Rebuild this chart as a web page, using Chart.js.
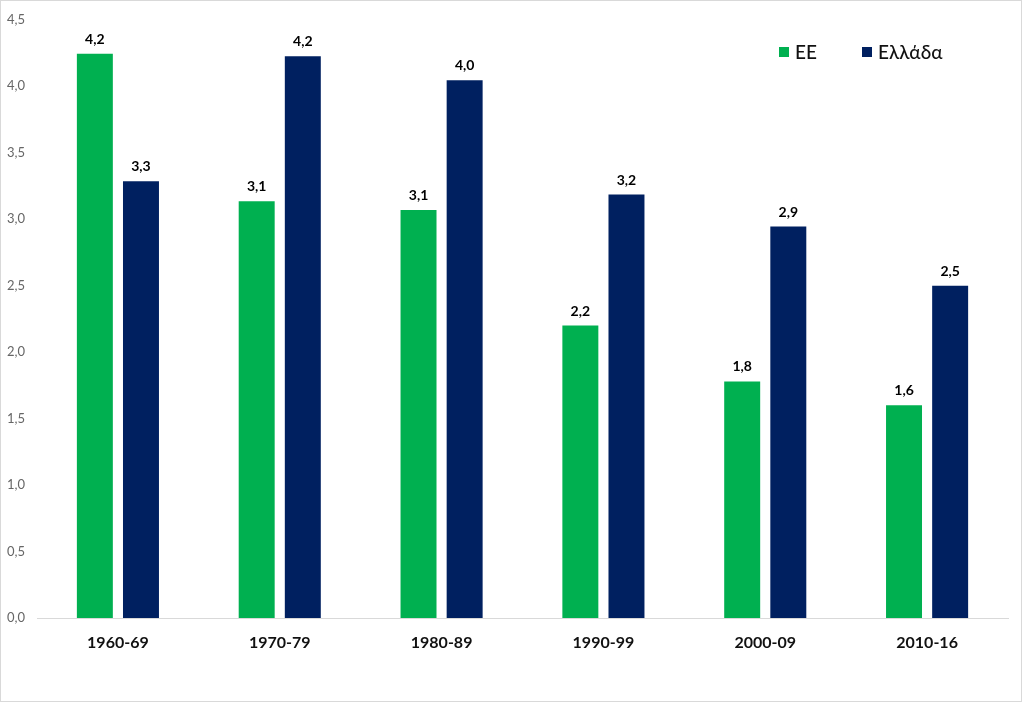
<!DOCTYPE html>
<html>
<head>
<meta charset="utf-8">
<script src="https://cdn.jsdelivr.net/npm/chart.js@4/dist/chart.umd.min.js"></script>
<style>
  html, body { margin: 0; padding: 0; background: #fff; }
  #wrap { width: 1023px; height: 703px; position: relative; }
</style>
</head>
<body>
<div id="wrap"><canvas id="c" width="1023" height="703"></canvas></div>
<script>
const categories = ['1960-69', '1970-79', '1980-89', '1990-99', '2000-09', '2010-16'];
const seriesNames = ['ΕΕ', 'Ελλάδα'];
const euValues = [4.245, 3.135, 3.07, 2.2, 1.78, 1.6];
const greeceValues = [3.285, 4.225, 4.045, 3.185, 2.945, 2.5];
const yTicks = [0, 0.5, 1, 1.5, 2, 2.5, 3, 3.5, 4, 4.5];

const GREEN = '#00B050';
const NAVY = '#002060';
const FONT = 'Lato, "Open Sans", sans-serif';

const fmt = v => v.toFixed(1).replace('.', ',');

const bgBorder = {
  id: 'bgBorder',
  beforeDraw(chart) {
    const ctx = chart.ctx;
    ctx.save();
    ctx.fillStyle = '#fff';
    ctx.fillRect(0, 0, chart.width, chart.height);
    ctx.strokeStyle = '#d9d9d9';
    ctx.lineWidth = 1;
    ctx.strokeRect(0.5, 0.5, chart.width - 2, chart.height - 2);
    ctx.restore();
  }
};

const valueLabels = {
  id: 'valueLabels',
  afterDatasetsDraw(chart) {
    const ctx = chart.ctx;
    ctx.save();
    ctx.font = 'bold 14px ' + FONT;
    ctx.fillStyle = '#000';
    ctx.textAlign = 'center';
    ctx.textBaseline = 'alphabetic';
    chart.data.datasets.forEach((ds, i) => {
      const meta = chart.getDatasetMeta(i);
      meta.data.forEach((el, j) => {
        ctx.fillText(fmt(ds.data[j]), el.x, el.y - 10);
      });
    });
    ctx.restore();
  }
};

const customLegend = {
  id: 'customLegend',
  afterDraw(chart) {
    const ctx = chart.ctx;
    const xs = [779, 862];
    ctx.save();
    ctx.font = '500 19px ' + FONT;
    ctx.textBaseline = 'middle';
    ctx.textAlign = 'left';
    chart.data.datasets.forEach((ds, i) => {
      ctx.fillStyle = ds.backgroundColor;
      ctx.fillRect(xs[i], 47, 10, 10);
      ctx.fillStyle = '#111';
      ctx.fillText(ds.label, xs[i] + 16, 52.5);
    });
    ctx.restore();
  }
};

new Chart(document.getElementById('c'), {
  type: 'bar',
  data: {
    labels: categories,
    datasets: [
      { label: seriesNames[0], data: euValues, backgroundColor: GREEN,
        categoryPercentage: 0.57, barPercentage: 0.78 },
      { label: seriesNames[1], data: greeceValues, backgroundColor: NAVY,
        categoryPercentage: 0.57, barPercentage: 0.78 }
    ]
  },
  options: {
    responsive: false,
    animation: false,
    devicePixelRatio: 1,
    layout: { padding: { top: 17, right: 15, bottom: 0, left: 0 } },
    plugins: {
      legend: { display: false },
      tooltip: { enabled: false }
    },
    scales: {
      x: {
        grid: { display: false, drawTicks: false },
        border: { display: true, color: '#d9d9d9', width: 1 },
        ticks: {
          color: '#111',
          font: { family: FONT, size: 16, weight: 'bold' },
          padding: 15
        },
        afterFit(scale) { scale.height = 85; }
      },
      y: {
        min: 0,
        max: 4.5,
        afterBuildTicks(scale) { scale.ticks = yTicks.map(v => ({ value: v })); },
        grid: { display: false, drawTicks: false },
        border: { display: false },
        ticks: {
          color: '#666',
          font: { family: FONT, size: 13 },
          padding: 12,
          callback: v => fmt(v)
        },
        afterFit(scale) { scale.width = 37; }
      }
    }
  },
  plugins: [bgBorder, valueLabels, customLegend]
});
</script>
</body>
</html>
